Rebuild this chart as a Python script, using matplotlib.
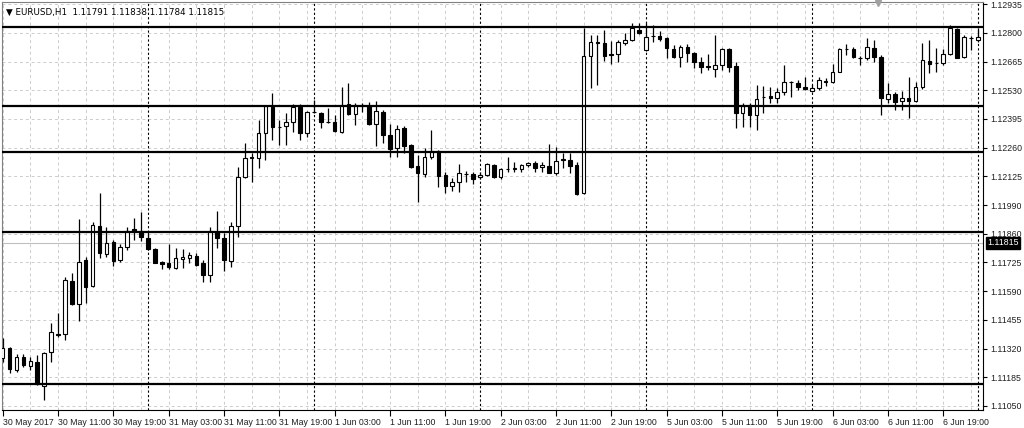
import matplotlib
matplotlib.use("Agg")
import matplotlib.pyplot as plt
import numpy as np

# EURUSD H1 candles, 30 May 03:00 .. 7 Jun 00:00
opens = [1.11275, 1.11322, 1.11219, 1.11280, 1.11237, 1.11256, 1.11144, 1.11303, 1.11388, 1.11388,
         1.11636, 1.11528, 1.11735, 1.11613, 1.11894, 1.11763, 1.11819, 1.11735, 1.11796, 1.11880,
         1.11871, 1.11838, 1.11786, 1.11725, 1.11720, 1.11697, 1.11739, 1.11744, 1.11753, 1.11720,
         1.11664, 1.11866, 1.11838, 1.11730, 1.11894, 1.12124, 1.12218, 1.12213, 1.12330, 1.12452,
         1.12358, 1.12363, 1.12382, 1.12452, 1.12330, 1.12429, 1.12424, 1.12382, 1.12382, 1.12335,
         1.12466, 1.12419, 1.12462, 1.12457, 1.12372, 1.12429, 1.12321, 1.12260, 1.12354, 1.12274,
         1.12175, 1.12138, 1.12218, 1.12246, 1.12133, 1.12082, 1.12100, 1.12138, 1.12138, 1.12124,
         1.12133, 1.12180, 1.12124, 1.12161, 1.12161, 1.12161, 1.12180, 1.12190, 1.12171, 1.12175,
         1.12143, 1.12208, 1.12204, 1.12180, 1.12049, 1.12691, 1.12757, 1.12752, 1.12701, 1.12701,
         1.12752, 1.12766, 1.12813, 1.12720, 1.12785, 1.12785, 1.12776, 1.12724, 1.12687, 1.12734,
         1.12705, 1.12663, 1.12644, 1.12630, 1.12649, 1.12724, 1.12644, 1.12424, 1.12462, 1.12415,
         1.12499, 1.12504, 1.12494, 1.12523, 1.12569, 1.12565, 1.12546, 1.12527, 1.12541, 1.12574,
         1.12569, 1.12616, 1.12724, 1.12724, 1.12682, 1.12682, 1.12729, 1.12687, 1.12490, 1.12513,
         1.12480, 1.12494, 1.12480, 1.12546, 1.12668, 1.12659, 1.12659, 1.12701, 1.12818, 1.12687,
         1.12776, 1.12766]
highs = [1.11369, 1.11327, 1.11294, 1.11294, 1.11280, 1.11289, 1.11303, 1.11439, 1.11486, 1.11655,
         1.11674, 1.11927, 1.11749, 1.11913, 1.12049, 1.11889, 1.11828, 1.11810, 1.11889, 1.11932,
         1.11960, 1.11866, 1.11791, 1.11730, 1.11810, 1.11791, 1.11786, 1.11772, 1.11767, 1.11735,
         1.11889, 1.11964, 1.11861, 1.11913, 1.12171, 1.12283, 1.12236, 1.12391, 1.12462, 1.12518,
         1.12391, 1.12424, 1.12466, 1.12466, 1.12433, 1.12485, 1.12429, 1.12448, 1.12415, 1.12546,
         1.12565, 1.12471, 1.12471, 1.12476, 1.12480, 1.12438, 1.12372, 1.12368, 1.12363, 1.12279,
         1.12227, 1.12260, 1.12344, 1.12250, 1.12147, 1.12119, 1.12185, 1.12152, 1.12147, 1.12147,
         1.12190, 1.12185, 1.12166, 1.12218, 1.12194, 1.12185, 1.12194, 1.12199, 1.12194, 1.12279,
         1.12265, 1.12236, 1.12236, 1.12194, 1.12823, 1.12790, 1.12790, 1.12813, 1.12762, 1.12766,
         1.12799, 1.12846, 1.12846, 1.12846, 1.12837, 1.12809, 1.12781, 1.12743, 1.12743, 1.12748,
         1.12710, 1.12687, 1.12701, 1.12790, 1.12729, 1.12729, 1.12663, 1.12471, 1.12471, 1.12555,
         1.12551, 1.12546, 1.12541, 1.12649, 1.12574, 1.12579, 1.12593, 1.12555, 1.12593, 1.12588,
         1.12654, 1.12729, 1.12748, 1.12734, 1.12691, 1.12776, 1.12766, 1.12696, 1.12565, 1.12523,
         1.12527, 1.12593, 1.12569, 1.12752, 1.12766, 1.12729, 1.12724, 1.12837, 1.12823, 1.12790,
         1.12785, 1.12823]
lows = [1.11256, 1.11205, 1.11209, 1.11233, 1.11219, 1.11148, 1.11078, 1.11256, 1.11373, 1.11359,
        1.11524, 1.11449, 1.11533, 1.11608, 1.11744, 1.11749, 1.11706, 1.11725, 1.11781, 1.11828,
        1.11824, 1.11781, 1.11720, 1.11692, 1.11692, 1.11692, 1.11697, 1.11720, 1.11706, 1.11631,
        1.11631, 1.11791, 1.11683, 1.11702, 1.11842, 1.12119, 1.12100, 1.12166, 1.12204, 1.12297,
        1.12274, 1.12274, 1.12335, 1.12297, 1.12311, 1.12424, 1.12354, 1.12377, 1.12335, 1.12330,
        1.12415, 1.12368, 1.12429, 1.12368, 1.12269, 1.12283, 1.12218, 1.12218, 1.12236, 1.12166,
        1.12007, 1.12124, 1.12208, 1.12077, 1.12049, 1.12058, 1.12054, 1.12100, 1.12091, 1.12115,
        1.12129, 1.12119, 1.12115, 1.12147, 1.12147, 1.12147, 1.12171, 1.12147, 1.12147, 1.12143,
        1.12133, 1.12166, 1.12143, 1.12039, 1.12044, 1.12541, 1.12555, 1.12668, 1.12654, 1.12663,
        1.12743, 1.12762, 1.12795, 1.12715, 1.12757, 1.12762, 1.12682, 1.12682, 1.12640, 1.12663,
        1.12635, 1.12612, 1.12626, 1.12593, 1.12626, 1.12616, 1.12354, 1.12358, 1.12358, 1.12344,
        1.12424, 1.12471, 1.12471, 1.12508, 1.12499, 1.12532, 1.12532, 1.12523, 1.12532, 1.12551,
        1.12565, 1.12616, 1.12696, 1.12682, 1.12649, 1.12673, 1.12663, 1.12415, 1.12471, 1.12438,
        1.12438, 1.12401, 1.12476, 1.12537, 1.12612, 1.12616, 1.12649, 1.12696, 1.12682, 1.12682,
        1.12720, 1.12757]
closes = [1.11322, 1.11223, 1.11280, 1.11242, 1.11261, 1.11153, 1.11298, 1.11397, 1.11385, 1.11641,
          1.11528, 1.11725, 1.11608, 1.11899, 1.11767, 1.11814, 1.11730, 1.11796, 1.11871, 1.11871,
          1.11842, 1.11786, 1.11720, 1.11716, 1.11702, 1.11744, 1.11749, 1.11758, 1.11711, 1.11664,
          1.11871, 1.11838, 1.11735, 1.11894, 1.12124, 1.12213, 1.12213, 1.12330, 1.12457, 1.12358,
          1.12357, 1.12382, 1.12452, 1.12330, 1.12429, 1.12428, 1.12382, 1.12381, 1.12340, 1.12462,
          1.12419, 1.12462, 1.12457, 1.12372, 1.12433, 1.12321, 1.12255, 1.12349, 1.12269, 1.12171,
          1.12143, 1.12218, 1.12246, 1.12129, 1.12082, 1.12100, 1.12143, 1.12137, 1.12115, 1.12133,
          1.12185, 1.12124, 1.12161, 1.12160, 1.12164, 1.12180, 1.12190, 1.12166, 1.12180, 1.12143,
          1.12199, 1.12206, 1.12175, 1.12044, 1.12691, 1.12757, 1.12752, 1.12691, 1.12698, 1.12757,
          1.12766, 1.12823, 1.12799, 1.12781, 1.12784, 1.12771, 1.12729, 1.12687, 1.12734, 1.12705,
          1.12663, 1.12640, 1.12640, 1.12649, 1.12724, 1.12640, 1.12424, 1.12462, 1.12415, 1.12490,
          1.12497, 1.12494, 1.12523, 1.12569, 1.12568, 1.12546, 1.12537, 1.12541, 1.12579, 1.12569,
          1.12616, 1.12724, 1.12723, 1.12687, 1.12681, 1.12734, 1.12687, 1.12494, 1.12513, 1.12476,
          1.12494, 1.12480, 1.12546, 1.12673, 1.12654, 1.12658, 1.12701, 1.12823, 1.12682, 1.12781,
          1.12775, 1.12781]

levels = [1.12826, 1.12457, 1.12243, 1.11867, 1.11152]
bid = 1.11815
day_starts = [21, 45, 69, 93, 117, 141]

time_labels = ["30 May 2017", "30 May 11:00", "30 May 19:00", "31 May 03:00", "31 May 11:00",
               "31 May 19:00", "1 Jun 03:00", "1 Jun 11:00", "1 Jun 19:00", "2 Jun 03:00",
               "2 Jun 11:00", "2 Jun 19:00", "5 Jun 03:00", "5 Jun 11:00", "5 Jun 19:00",
               "6 Jun 03:00", "6 Jun 11:00", "6 Jun 19:00"]
price_labels = ["1.11050", "1.11185", "1.11320", "1.11455", "1.11590", "1.11725", "1.11860",
                "1.11990", "1.12125", "1.12260", "1.12395", "1.12530", "1.12665", "1.12800",
                "1.12935"]
header = "EURUSD,H1  1.11791 1.11838 1.11784 1.11815"

plt.rcParams['font.family'] = ['Liberation Sans', 'DejaVu Sans']
fs = 6.3

o = np.array(opens)
h = np.array(highs)
l = np.array(lows)
c = np.array(closes)
x = np.arange(len(o))

fig = plt.figure(figsize=(10.24, 4.28), dpi=100)
ax = fig.add_axes([2 / 1024, 18 / 428, 981 / 1024, 408 / 428])

ax.set_xlim(-0.1, 141.75)
ax.set_ylim(1.11031, 1.12945)

# grid
price_ticks = np.linspace(1.11050, 1.12935, len(price_labels))
for p in price_ticks:
    ax.axhline(p, color='#cccccc', lw=0.7, ls=(0, (3, 3)), zorder=0)
for xi in range(0, 142, 4):
    ax.axvline(xi, color='#cccccc', lw=0.7, ls=(0, (3, 3)), zorder=0)

# day separators
for d in day_starts:
    ax.axvline(d, color='black', lw=0.8, ls=(0, (2, 2)), zorder=1)

# bid line
ax.axhline(bid, color='#c0c0c0', lw=0.8, zorder=1)

# candles
up = c >= o
ax.vlines(x, l, h, color='black', lw=0.9, zorder=2)
body_lo = np.minimum(o, c)
body_h = np.maximum(np.abs(c - o), 0.000012)
ax.bar(x[up], body_h[up], bottom=body_lo[up], width=0.52, color='white',
       edgecolor='black', linewidth=0.8, zorder=3)
ax.bar(x[~up], body_h[~up], bottom=body_lo[~up], width=0.52, color='black',
       edgecolor='black', linewidth=0.8, zorder=3)

# horizontal levels
for lv in levels:
    ax.axhline(lv, color='black', lw=1.6, zorder=4)

# axes
for s in ['top', 'left']:
    ax.spines[s].set_color('#808080')
    ax.spines[s].set_linewidth(0.8)
ax.spines['right'].set_linewidth(0.8)
ax.spines['bottom'].set_linewidth(0.8)

ax.yaxis.tick_right()
ax.set_yticks(price_ticks)
ax.set_yticklabels(price_labels, fontsize=fs, color='#202020')
ax.tick_params(axis='y', direction='out', length=3, width=0.8, pad=2)

ax.set_xticks(np.arange(0, 8 * len(time_labels), 8))
ax.set_xticklabels(time_labels, fontsize=fs, color='#202020', ha='left')
ax.tick_params(axis='x', direction='out', length=4, width=0.8, pad=2)

# current price label
ax.annotate("1.11815", xy=(1.0, bid), xycoords=('axes fraction', 'data'),
            xytext=(3, 0), textcoords='offset points', fontsize=fs, color='white',
            va='center', ha='left',
            bbox=dict(boxstyle='square,pad=0.15', fc='black', ec='black'))

# header
ax.text(0.004, 0.985, "\u25bc " + header, transform=ax.transAxes, fontsize=fs,
        va='top', ha='left', color='black', family=['DejaVu Sans'])

# chart shift marker
ax.plot([126.5], [1.12942], marker='v', color='#a0a0a0', ms=4, clip_on=False, zorder=5)

fig.savefig("out.png", dpi=100)
